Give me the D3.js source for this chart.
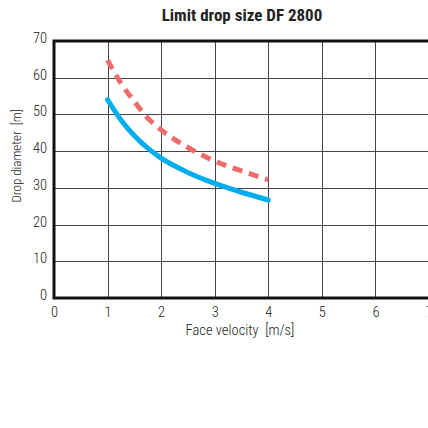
<html>
<head>
<title>Limit drop size DF 2800</title>
<script src="https://cdn.jsdelivr.net/npm/d3@7"></script>
<style type="text/css">
    body { margin: 0; background: #fff; }
    .tick text { font-family: "Liberation Sans Narrow", "Roboto", sans-serif; font-size: 14.5px; fill: #222; font-stretch: condensed; font-weight: 300; }
    .grid line { stroke: #444; stroke-width: 1; shape-rendering: crispEdges; }
</style>
</head>
<body>
<script type="text/javascript">
    var velocity = [1, 1.25, 1.5, 1.75, 2, 2.5, 3, 3.5, 4];
    var limitBlue = [54, 48.5, 44.2, 40.8, 38.1, 34.2, 31.2, 28.8, 26.7];
    var limitRed = [64.8, 58.5, 53.5, 49, 45.8, 41, 37.3, 34.6, 32.2];
    var xTicks = [0, 1, 2, 3, 4, 5, 6, 7];
    var yTicks = [0, 10, 20, 30, 40, 50, 60, 70];

    var w = 428, h = 428;
    var padLeft = 54, padRight = 429, padTop = 41, padBottom = 298;
    var font = "'Liberation Sans Narrow', 'Roboto', sans-serif";

    var svg = d3.select("body").append("svg")
        .attr("width", w)
        .attr("height", h);

    var xScale = d3.scaleLinear().domain([0, 7]).range([padLeft, padRight]);
    var yScale = d3.scaleLinear().domain([0, 70]).range([padBottom, padTop]);

    // grid
    svg.append("g").attr("class", "grid")
        .selectAll("line")
        .data(xTicks.slice(1))
        .enter().append("line")
        .attr("x1", function(d) { return Math.round(xScale(d)) + 0.5; })
        .attr("x2", function(d) { return Math.round(xScale(d)) + 0.5; })
        .attr("y1", padTop).attr("y2", padBottom);
    svg.append("g").attr("class", "grid")
        .selectAll("line")
        .data(yTicks.slice(1, -1))
        .enter().append("line")
        .attr("y1", function(d) { return Math.round(yScale(d)) + 0.5; })
        .attr("y2", function(d) { return Math.round(yScale(d)) + 0.5; })
        .attr("x1", padLeft).attr("x2", padRight);

    // frame
    svg.append("path")
        .attr("d", "M" + padRight + "," + padTop + "H" + padLeft + "V" + padBottom + "H" + padRight)
        .attr("fill", "none")
        .attr("stroke", "#111")
        .attr("stroke-width", 3);

    var xAxis = d3.axisBottom(xScale).tickValues(xTicks).tickFormat(d3.format("d")).tickSize(0).tickPadding(9);
    var yAxis = d3.axisLeft(yScale).tickValues(yTicks).tickFormat(d3.format("d")).tickSize(0).tickPadding(7);
    svg.append("g").attr("transform", "translate(0," + padBottom + ")").call(xAxis)
        .call(function(g) { g.select(".domain").remove(); });
    svg.append("g").attr("transform", "translate(" + padLeft + ",0)").call(yAxis)
        .call(function(g) { g.select(".domain").remove(); })
        .selectAll("text").attr("dy", "0.1em");

    var line = d3.line()
        .x(function(d) { return xScale(d[0]); })
        .y(function(d) { return yScale(d[1]); })
        .curve(d3.curveMonotoneX);

    svg.append("path")
        .datum(d3.zip(velocity, limitBlue))
        .attr("d", line)
        .attr("fill", "none")
        .attr("stroke", "#00aeef")
        .attr("stroke-width", 5)
        .attr("stroke-linecap", "round");

    svg.append("path")
        .datum(d3.zip(velocity, limitRed))
        .attr("d", line)
        .attr("fill", "none")
        .attr("stroke", "#ef6b6b")
        .attr("stroke-width", 5)
        .attr("stroke-dasharray", "10,7")
        .attr("stroke-linecap", "butt");

    // titles
    svg.append("text")
        .attr("x", 242).attr("y", 21)
        .attr("text-anchor", "middle")
        .attr("font-family", font)
        .attr("font-stretch", "condensed")
        .attr("font-weight", "bold")
        .attr("font-size", "17px")
        .attr("fill", "#222")
        .text("Limit drop size DF 2800");

    svg.append("text")
        .attr("x", 240).attr("y", 335)
        .attr("text-anchor", "middle")
        .attr("font-family", font)
        .attr("font-stretch", "condensed")
        .attr("font-weight", 300)
        .attr("font-size", "14.5px")
        .attr("fill", "#222")
        .attr("xml:space", "preserve")
        .text("Face velocity  [m/s]");

    svg.append("text")
        .attr("transform", "translate(21,156) rotate(-90)")
        .attr("text-anchor", "middle")
        .attr("font-family", font)
        .attr("font-stretch", "condensed")
        .attr("font-weight", 300)
        .attr("font-size", "13px")
        .attr("fill", "#222")
        .attr("xml:space", "preserve")
        .text("Drop diameter  [m]");
</script>
</body>
</html>
